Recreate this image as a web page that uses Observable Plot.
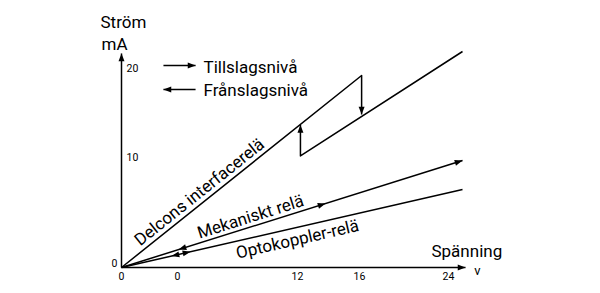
<!DOCTYPE html>
<html><head><meta charset="utf-8">
<script src="https://cdn.jsdelivr.net/npm/d3@7"></script>
<script src="https://cdn.jsdelivr.net/npm/@observablehq/plot@0.6"></script>
<style>body{margin:0;background:#fff}#chart svg{display:block}</style>
</head><body><div id="chart"></div>
<script>
// Spänning (V) on x, Ström (mA) on y — values read from the schematic
const xTicks = [0, 3.82, 12, 16, 24];
const xTickLabels = ["0", "0", "12", "16", "24"];
const yTicks = [0, 10, 20];
const yTickLabels = ["0", "10", "20"];

const delconsUpper = [{x: 0, y: 0}, {x: 16.19, y: 19.21}, {x: 16.19, y: 14.83}];
const delconsLower = [{x: 12.19, y: 13.65}, {x: 12.19, y: 10.18}, {x: 25.26, y: 21.91}];
const mekaniskt = [{x: 0, y: 0}, {x: 25.26, y: 9.73}];
const optokoppler = [{x: 0, y: 0}, {x: 25.26, y: 7.09}];

const axisYLine = [{x: 0, y: 0}, {x: 0, y: 21.69}];
const axisXLine = [{x: 0, y: 0}, {x: 25.53, y: 0}];

// arrowheads: tip and a point behind it on the same line
const arrowTips = [
  {tip: [0, 21.69], from: [0, 0]},
  {tip: [25.53, 0], from: [0, 0]},
  {tip: [12.19, 13.65], from: [12.19, 10.18]},
  {tip: [16.19, 14.83], from: [16.19, 19.21]},
  {tip: [25.26, 9.73], from: [0, 0]},
  {tip: [13.81, 5.82], from: [0, 0]},
  {tip: [3.89, 1.63], from: [25.26, 9.73]},
  {tip: [4.70, 1.44], from: [0, 0]},
  {tip: [3.41, 1.04], from: [25.26, 7.09]}
];

const seriesNames = ["Delcons interfacerelä", "Mekaniskt relä", "Optokoppler-relä"];
const seriesLabelX = [5.32, 8.80, 12.0];
const seriesLabelY = [6.85, 4.6, 2.55];
const seriesLines = [delconsUpper, mekaniskt, optokoppler];

const legendLabels = ["Tillslagsnivå", "Frånslagsnivå"];
const legendTextY = [20.08, 17.53];
const legendArrowY = [20.34, 17.64];

const xScale = {type: "linear", domain: [0, 12, 16, 24], range: [121, 297, 359, 448]};
const yScale = {type: "linear", domain: [0, 10, 20], range: [267, 157, 68]};
const sx = Plot.scale({x: xScale});
const sy = Plot.scale({y: yScale});
const headAngle = (from, tip) => {
  const dx = sx.apply(tip[0]) - sx.apply(from[0]);
  const dy = sy.apply(tip[1]) - sy.apply(from[1]);
  return Math.atan2(dx, -dy) * 180 / Math.PI;
};
const lineAngle = (pts) => {
  const dx = sx.apply(pts[1].x) - sx.apply(pts[0].x);
  const dy = sy.apply(pts[1].y) - sy.apply(pts[0].y);
  return Math.atan2(dy, dx) * 180 / Math.PI;
};
const arrowSymbol = {
  draw(context, size) {
    const r = Math.sqrt(size / Math.PI);
    const L = r * 2.6, w = r * 1.0;
    context.moveTo(0, 0);
    context.lineTo(w, L);
    context.lineTo(-w, L);
    context.closePath();
  }
};

const legendArrows = legendLabels.map((d, i) => ({
  x1: i === 0 ? 2.86 : 5.05, x2: i === 0 ? 5.05 : 2.86, y: legendArrowY[i]
}));

const lineStyle = {x: "x", y: "y", stroke: "black", strokeWidth: 1.5, strokeLinecap: "butt"};
const F = 17;

const chart = Plot.plot({
  width: 600,
  height: 293,
  margin: 0,
  x: {...xScale, axis: null},
  y: {...yScale, axis: null},
  style: {fontFamily: "Roboto, sans-serif", color: "black", background: "white"},
  marks: [
    Plot.line(axisYLine, lineStyle),
    Plot.line(axisXLine, lineStyle),
    Plot.line(delconsUpper, lineStyle),
    Plot.line(delconsLower, lineStyle),
    Plot.line(mekaniskt, lineStyle),
    Plot.line(optokoppler, lineStyle),
    Plot.link(legendArrows, {x1: "x1", x2: "x2", y1: "y", y2: "y", stroke: "black", strokeWidth: 1.5}),
    Plot.dot(arrowTips, {
      x: d => d.tip[0], y: d => d.tip[1],
      rotate: d => headAngle(d.from, d.tip),
      symbol: arrowSymbol, r: 3, fill: "black", stroke: "none"
    }),
    Plot.dot(legendArrows, {
      x: "x2", y: "y",
      rotate: d => headAngle([d.x1, d.y], [d.x2, d.y]),
      symbol: arrowSymbol, r: 3, fill: "black", stroke: "none"
    }),
    // tick labels
    Plot.text(xTicks, {x: d => d, y: 0, dy: 9, text: (d, i) => xTickLabels[i], fontSize: 10.5}),
    Plot.text(yTicks, {filter: d => d > 0, x: 0, y: d => d, dx: 11, text: (d, i) => yTickLabels[i], fontSize: 10.5}),
    Plot.text(yTicks, {filter: d => d === 0, x: 0, y: d => d, dx: -7, dy: -4, text: (d, i) => yTickLabels[i], fontSize: 10.5}),
    // axis titles
    Plot.text(["Ström"], {x: 0, y: 25.2, dx: -21, textAnchor: "start", fontSize: F}),
    Plot.text(["mA"], {x: 0, y: 22.7, dx: -20, textAnchor: "start", fontSize: F}),
    Plot.text(["Spänning"], {x: 22.47, y: 1.32, dy: -1.5, textAnchor: "start", fontSize: F}),
    Plot.text(["v"], {x: 26.6, y: 0, dy: 3, fontSize: 13}),
    // legend
    Plot.text(legendLabels, {x: 5.59, y: (d, i) => legendTextY[i], textAnchor: "start", fontSize: F}),
    // series labels along lines
    Plot.text(seriesNames, {
      x: (d, i) => seriesLabelX[i], y: (d, i) => seriesLabelY[i],
      rotate: (d, i) => lineAngle(seriesLines[i]),
      fontSize: F
    })
  ]
});
document.getElementById("chart").appendChild(chart);
</script>
</body></html>
